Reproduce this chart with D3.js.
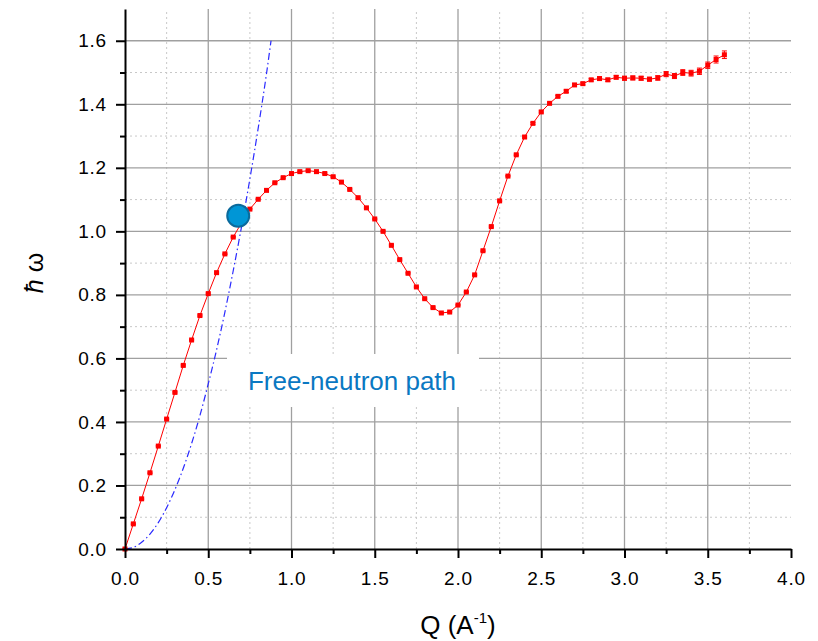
<!DOCTYPE html>
<html lang="en">
<head>
<meta charset="utf-8">
<title>Dispersion curve</title>
<script src="https://d3js.org/d3.v7.min.js"></script>
<style>
    body { margin: 0; background: #fff; }
    text { font-family: "Liberation Sans", Arial, sans-serif; }
</style>
</head>
<body>
<div id="chart"></div>
<script>
    // measured points, Q step 0.05
    var qValues = d3.range(73).map(function (i) { return +(i * 0.05).toFixed(2); });
    var omegaValues = [
        0.000, 0.079, 0.158, 0.240, 0.324, 0.409, 0.493, 0.578, 0.658, 0.735,
        0.804, 0.870, 0.929, 0.982, 1.027, 1.070, 1.101, 1.129, 1.153, 1.169,
        1.182, 1.188, 1.191, 1.188, 1.182, 1.172, 1.155, 1.132, 1.106, 1.074,
        1.039, 1.000, 0.956, 0.911, 0.868, 0.825, 0.788, 0.760, 0.743, 0.746,
        0.768, 0.809, 0.863, 0.939, 1.015, 1.096, 1.174, 1.241, 1.297, 1.340,
        1.376, 1.403, 1.425, 1.441, 1.461, 1.465, 1.477, 1.481, 1.477, 1.485,
        1.482, 1.483, 1.482, 1.479, 1.483, 1.495, 1.489, 1.500, 1.498, 1.504,
        1.523, 1.541, 1.556
    ];
    var omegaErrors = [
        0.002, 0.002, 0.002, 0.002, 0.002, 0.002, 0.002, 0.002, 0.002, 0.002,
        0.002, 0.002, 0.002, 0.002, 0.002, 0.002, 0.002, 0.002, 0.002, 0.002,
        0.002, 0.002, 0.002, 0.002, 0.002, 0.002, 0.002, 0.002, 0.002, 0.002,
        0.002, 0.002, 0.002, 0.002, 0.002, 0.002, 0.002, 0.002, 0.002, 0.002,
        0.002, 0.002, 0.002, 0.002, 0.002, 0.002, 0.002, 0.002, 0.003, 0.003,
        0.003, 0.003, 0.003, 0.004, 0.004, 0.004, 0.004, 0.005, 0.005, 0.005,
        0.006, 0.006, 0.006, 0.006, 0.007, 0.008, 0.008, 0.009, 0.009, 0.010,
        0.010, 0.011, 0.012
    ];

    // free-neutron path
    var freeQ = [0.00, 0.05, 0.10, 0.15, 0.20, 0.25, 0.30, 0.35, 0.40, 0.45,
                 0.50, 0.55, 0.60, 0.65, 0.70, 0.75, 0.80, 0.85, 0.877];
    var freeOmega = [0.000, 0.005, 0.021, 0.047, 0.083, 0.130, 0.187, 0.254, 0.332, 0.420,
                     0.520, 0.627, 0.746, 0.876, 1.015, 1.165, 1.325, 1.497, 1.600];

    // crossing point
    var crossQ = [0.68];
    var crossOmega = [1.049];

    var xMajor = [0.0, 0.5, 1.0, 1.5, 2.0, 2.5, 3.0, 3.5, 4.0];
    var xMinor = [0.25, 0.75, 1.25, 1.75, 2.25, 2.75, 3.25, 3.75];
    var yMajor = [0.0, 0.2, 0.4, 0.6, 0.8, 1.0, 1.2, 1.4, 1.6];
    var yMinor = [0.1, 0.3, 0.5, 0.7, 0.9, 1.1, 1.3, 1.5];

    var width = 818, height = 641;

    var x = d3.scaleLinear().domain([0, 4]).range([125, 791]);
    var y = d3.scaleLinear().domain([0, 1.7]).range([549, 9]);

    var svg = d3.select('#chart').append('svg')
        .attr('width', width)
        .attr('height', height);

    // grid
    var grid = svg.append('g');
    grid.selectAll('.vmin').data(xMinor).enter().append('line')
        .attr('x1', function (d) { return x(d); }).attr('x2', function (d) { return x(d); })
        .attr('y1', y(0)).attr('y2', y(1.7))
        .attr('stroke', '#c8c8c8').attr('stroke-width', 1).attr('stroke-dasharray', '2,3');
    grid.selectAll('.hmin').data(yMinor).enter().append('line')
        .attr('x1', x(0)).attr('x2', x(4))
        .attr('y1', function (d) { return y(d); }).attr('y2', function (d) { return y(d); })
        .attr('stroke', '#c8c8c8').attr('stroke-width', 1).attr('stroke-dasharray', '2,3');
    grid.selectAll('.vmaj').data(xMajor.slice(1, -1)).enter().append('line')
        .attr('x1', function (d) { return x(d); }).attr('x2', function (d) { return x(d); })
        .attr('y1', y(0)).attr('y2', y(1.7))
        .attr('stroke', '#a0a0a0').attr('stroke-width', 1.3);
    grid.selectAll('.hmaj').data(yMajor.slice(1)).enter().append('line')
        .attr('x1', x(0)).attr('x2', x(4))
        .attr('y1', function (d) { return y(d); }).attr('y2', function (d) { return y(d); })
        .attr('stroke', '#a0a0a0').attr('stroke-width', 1.3);

    // label box hides the grid behind it
    svg.append('rect')
        .attr('x', 227).attr('y', 354)
        .attr('width', 252).attr('height', 53)
        .attr('fill', '#fff');
    svg.append('text')
        .attr('x', 352).attr('y', 390)
        .attr('text-anchor', 'middle')
        .attr('font-size', '26px')
        .attr('fill', '#0a78c2')
        .text('Free-neutron path');

    // free neutron dash-dot line
    var free = freeQ.map(function (q, i) { return { q: q, w: freeOmega[i] }; });
    svg.append('path')
        .datum(free)
        .attr('fill', 'none')
        .attr('stroke', '#2a2aff')
        .attr('stroke-width', 1.2)
        .attr('stroke-dasharray', '7,3,1.5,3')
        .attr('d', d3.line().curve(d3.curveMonotoneX)
            .x(function (d) { return x(d.q); })
            .y(function (d) { return y(d.w); }));

    // measured data
    var pts = qValues.map(function (q, i) { return { q: q, w: omegaValues[i], e: omegaErrors[i] }; });
    svg.append('path')
        .datum(pts)
        .attr('fill', 'none')
        .attr('stroke', '#ff0000')
        .attr('stroke-width', 1)
        .attr('d', d3.line()
            .x(function (d) { return x(d.q); })
            .y(function (d) { return y(d.w); }));

    var err = svg.append('g').attr('stroke', '#ff0000').attr('stroke-width', 1);
    err.selectAll('.eb').data(pts).enter().append('path')
        .attr('d', function (d) {
            var cx = x(d.q), y1 = y(d.w + d.e), y2 = y(d.w - d.e);
            return 'M' + (cx - 2.5) + ',' + y1 + 'H' + (cx + 2.5) +
                   'M' + cx + ',' + y1 + 'V' + y2 +
                   'M' + (cx - 2.5) + ',' + y2 + 'H' + (cx + 2.5);
        });

    svg.selectAll('.pt').data(pts).enter().append('rect')
        .attr('x', function (d) { return x(d.q) - 2.5; })
        .attr('y', function (d) { return y(d.w) - 2.5; })
        .attr('width', 5).attr('height', 5)
        .attr('fill', '#ff0000');

    // crossing marker
    svg.selectAll('.cross').data(crossQ).enter().append('circle')
        .attr('cx', function (d) { return x(d); })
        .attr('cy', function (d, i) { return y(crossOmega[i]); })
        .attr('r', 11)
        .attr('fill', '#0096d6')
        .attr('stroke', '#0b6a9c')
        .attr('stroke-width', 2);

    // axes
    var xAxis = svg.append('g').attr('transform', 'translate(0,' + y(0) + ')')
        .call(d3.axisBottom(x).tickValues(xMajor).tickSize(9).tickSizeOuter(0)
            .tickFormat(d3.format('.1f')));
    svg.append('g').attr('transform', 'translate(0,' + y(0) + ')')
        .call(d3.axisBottom(x).tickValues(xMinor).tickSize(5).tickFormat(''))
        .select('.domain').remove();
    var yAxis = svg.append('g').attr('transform', 'translate(' + x(0) + ',0)')
        .call(d3.axisLeft(y).tickValues(yMajor).tickSize(9).tickSizeOuter(0)
            .tickFormat(d3.format('.1f')));
    svg.append('g').attr('transform', 'translate(' + x(0) + ',0)')
        .call(d3.axisLeft(y).tickValues(yMinor).tickSize(5).tickFormat(''))
        .select('.domain').remove();

    svg.selectAll('.domain').attr('stroke', '#000').attr('stroke-width', 2);
    svg.selectAll('.tick line').attr('stroke', '#000').attr('stroke-width', 2);
    xAxis.selectAll('text')
        .attr('font-family', '"Liberation Sans", Arial, sans-serif')
        .attr('font-size', '19px').attr('letter-spacing', '0.8px')
        .attr('fill', '#000').attr('dy', '0').attr('y', 36);
    yAxis.selectAll('text')
        .attr('font-family', '"Liberation Sans", Arial, sans-serif')
        .attr('font-size', '19px').attr('letter-spacing', '0.8px')
        .attr('fill', '#000').attr('x', -18);

    // axis titles
    var xt = svg.append('text')
        .attr('x', 458).attr('y', 634)
        .attr('text-anchor', 'middle')
        .attr('font-size', '26px');
    xt.append('tspan').text('Q (A');
    xt.append('tspan').attr('dy', -11).attr('font-size', '15px').text('-1');
    xt.append('tspan').attr('dy', 11).text(')');

    var yt = svg.append('text')
        .attr('transform', 'translate(43,273) rotate(-90)')
        .attr('text-anchor', 'middle')
        .attr('font-size', '25px');
    yt.append('tspan').attr('font-style', 'italic').text('ħ');
    yt.append('tspan').text(' ω');
</script>
</body>
</html>
